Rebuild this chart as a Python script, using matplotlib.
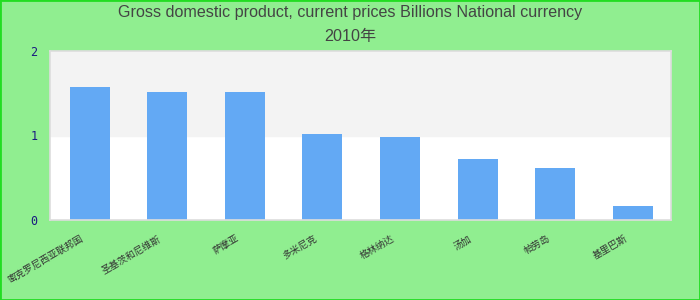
import matplotlib
matplotlib.use("Agg")
import matplotlib.pyplot as plt
import matplotlib.transforms as mtransforms
import numpy as np

# data
regions = ["密克罗尼西亚联邦国", "圣基茨和尼维斯", "萨摩亚", "多米尼克",
           "格林纳达", "汤加", "帕劳岛", "基里巴斯"]
gdp = [1.57, 1.51, 1.51, 1.02, 0.98, 0.72, 0.61, 0.17]
yticks = [0, 1, 2]
title = "Gross domestic product, current prices Billions National currency"
subtitle = "2010年"

fonts = ["Liberation Sans", "Noto Sans CJK SC"]

fig = plt.figure(figsize=(7, 3), dpi=100, facecolor="#90EE90")
# bright green frame round the figure
fig.patches.append(plt.Rectangle((0, 0), 1, 1, transform=fig.transFigure,
                                 fill=False, edgecolor="#22DD22", linewidth=2))

ax = fig.add_axes([50/700, 80/300, 621/700, 169/300])
ax.set_facecolor("white")
ax.axhspan(1, 2, color="#F3F3F3", zorder=0)

x = np.arange(len(regions))
ax.bar(x + 0.01, gdp, width=0.515, color="#63A9F4", zorder=2)

ax.set_xlim(-0.5, len(regions) - 0.5)
ax.set_ylim(0, 2)
ax.set_yticks(yticks)
ax.set_yticklabels([str(t) for t in yticks], family="DejaVu Sans Mono",
                   fontsize=8.5, color="#1A1A80")
ax.set_xticks(x)
ax.set_xticklabels(regions, family=fonts, fontsize=6.8,
                   rotation=30, ha="right", rotation_mode="anchor",
                   color="#333333")
ax.tick_params(axis="y", length=0, pad=9)
ax.tick_params(axis="x", length=0, pad=10)
shift = mtransforms.ScaledTranslation(-8/100, 0, fig.dpi_scale_trans)
for lab in ax.get_xticklabels():
    lab.set_transform(lab.get_transform() + shift)
for s in ax.spines.values():
    s.set_color("#DDDDDD")
    s.set_linewidth(1.2)

fig.text(0.5, 1 - 13/300, title, ha="center", va="center",
         family=fonts, fontsize=11.6, color="#444444")
fig.text(0.5, 1 - 37/300, subtitle, ha="center", va="center",
         family=fonts, fontsize=11.6, color="#444444")

fig.savefig("out.png", dpi=100, facecolor=fig.get_facecolor())
